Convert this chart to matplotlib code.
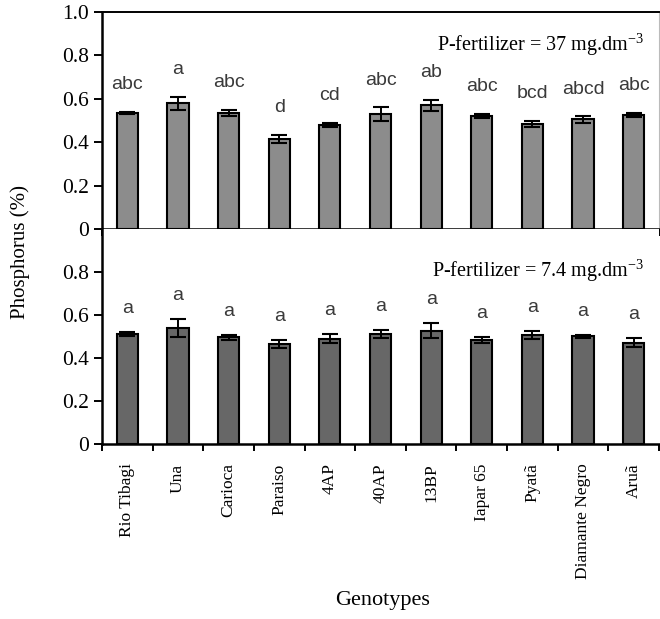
import matplotlib
matplotlib.use("Agg")
import matplotlib.pyplot as plt
from matplotlib.ticker import FuncFormatter

genotypes = ["Rio Tibagi", "Una", "Carioca", "Paraiso", "4AP", "40AP", "13BP",
             "Iapar 65", "Pyatã", "Diamante Negro", "Aruã"]

# P-fertilizer = 37 mg.dm-3
p_high = [0.535, 0.58, 0.535, 0.415, 0.48, 0.53, 0.57, 0.52, 0.485, 0.505, 0.525]
err_high = [0.005, 0.03, 0.015, 0.018, 0.01, 0.03, 0.025, 0.01, 0.015, 0.015, 0.01]
letters_high = ["abc", "a", "abc", "d", "cd", "abc", "ab", "abc", "bcd", "abcd", "abc"]

# P-fertilizer = 7.4 mg.dm-3
p_low = [0.512, 0.54, 0.496, 0.466, 0.49, 0.512, 0.527, 0.484, 0.507, 0.501, 0.472]
err_low = [0.008, 0.04, 0.01, 0.018, 0.02, 0.018, 0.034, 0.015, 0.02, 0.006, 0.02]
letters_low = ["a"] * 11

serif = "Liberation Serif"
sans = "Liberation Sans"
plt.rcParams["mathtext.fontset"] = "custom"
plt.rcParams["mathtext.rm"] = serif
plt.rcParams["mathtext.it"] = serif + ":italic"

fig = plt.figure(figsize=(6.6, 6.19), dpi=100)
W, H = 660, 619
left, right = 102 / W, 659 / W
ax1 = fig.add_axes([left, 1 - 229 / H, right - left, 217 / H])
ax2 = fig.add_axes([left, 1 - 444 / H, right - left, 215 / H])

fmt = FuncFormatter(lambda v, p: "0" if abs(v) < 1e-9 else f"{v:.1f}")


def draw_panel(ax, vals, errs, letters, color, note, note_y, offset):
    x = range(len(genotypes))
    ax.bar(x, vals, width=0.42, color=color, edgecolor="black", linewidth=1.5,
           yerr=errs, capsize=5.5,
           error_kw=dict(ecolor="black", elinewidth=1.4, capthick=1.5))
    for i, (v, e, t) in enumerate(zip(vals, errs, letters)):
        ax.text(i, v + e + offset, t, ha="center", va="center", fontsize=14,
                family=sans, color="#3a3a3a")
    ax.text(10.2, note_y, note, ha="right", va="center", fontsize=14.5, family=serif)
    ax.set_xlim(-0.5, 10.42)
    ax.set_ylim(0, 1.0)
    ax.set_xticks([i - 0.5 for i in range(12)])
    ax.tick_params(axis="x", direction="out", length=5, width=1.4, labelbottom=False)
    ax.tick_params(axis="y", direction="out", length=6, width=1.4, labelsize=15.5)
    ax.yaxis.set_major_formatter(fmt)
    for s in ["left", "bottom"]:
        ax.spines[s].set_linewidth(1.8)


draw_panel(ax1, p_high, err_high, letters_high, "#8c8c8c",
           "P-fertilizer = 37 mg.dm$^{\\mathrm{-3}}$", 0.85, 0.125)
ax1.set_yticks([0, 0.2, 0.4, 0.6, 0.8, 1.0])
for lab in ax1.get_yticklabels():
    lab.set_family(serif)
ax1.spines["top"].set_linewidth(1.4)
ax1.spines["right"].set_color("#bbbbbb")

draw_panel(ax2, p_low, err_low, letters_low, "#676767",
           "P-fertilizer = 7.4 mg.dm$^{\\mathrm{-3}}$", 0.805, 0.11)
ax2.set_yticks([0, 0.2, 0.4, 0.6, 0.8])
for lab in ax2.get_yticklabels():
    lab.set_family(serif)
ax2.spines["top"].set_visible(False)
ax2.spines["right"].set_visible(False)

# category labels centred under the bars
for i, g in enumerate(genotypes):
    ax2.annotate(g, xy=(i, 0), xycoords=("data", "axes fraction"),
                 xytext=(0, -14), textcoords="offset points",
                 rotation=90, ha="center", va="top", fontsize=12.5, family=serif)

fig.text(20 / W, 1 - 252 / H, "Phosphorus (%)", rotation=90, ha="center",
         va="center", fontsize=15, family=serif)
fig.text(383 / W, 1 - 601 / H, "Genotypes", ha="center", va="center",
         fontsize=16, family=serif)

fig.savefig("out.png", dpi=100)
